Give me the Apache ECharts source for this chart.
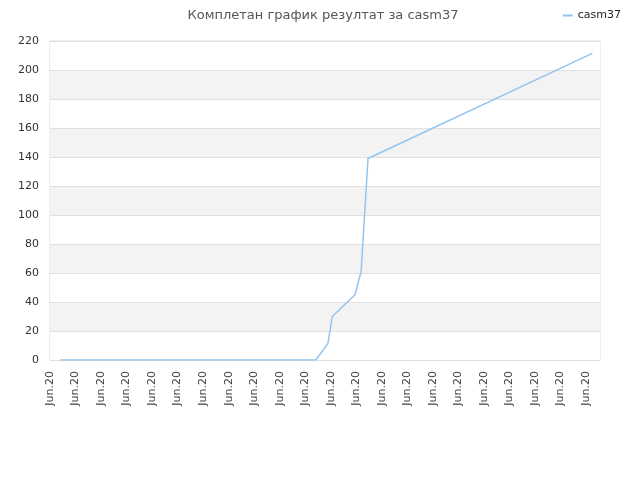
<!DOCTYPE html>
<html>
<head>
<meta charset="utf-8">
<script src="https://cdn.jsdelivr.net/npm/echarts@6/dist/echarts.min.js"></script>
<style>html,body{margin:0;padding:0;background:#fff}#c{width:640px;height:480px}</style>
</head>
<body>
<div id="c"></div>
<script>
var chartTitle = 'Комплетан график резултат за casm37';
var seriesName = 'casm37';
var xTickLabels = ['Jun.20','Jun.20','Jun.20','Jun.20','Jun.20','Jun.20','Jun.20','Jun.20','Jun.20','Jun.20','Jun.20',
                   'Jun.20','Jun.20','Jun.20','Jun.20','Jun.20','Jun.20','Jun.20','Jun.20','Jun.20','Jun.20','Jun.20'];
var xPositions = [0.39, 10.42, 10.89, 11.06, 11.95, 12.19, 12.46, 21.25];
var scoreValues = [0, 0, 11.5, 30, 45, 61, 139, 211.5];

var data = xPositions.map(function (x, i) { return [x, scoreValues[i]]; });

var chart = echarts.init(document.getElementById('c'), null, {renderer: 'canvas'});
chart.setOption({
  animation: false,
  backgroundColor: '#fff',
  title: {
    text: chartTitle,
    left: 318, top: 4, textAlign: 'center',
    textStyle: {fontFamily: 'DejaVu Sans', fontSize: 13, fontWeight: 'normal', color: '#555'}
  },
  legend: {
    right: 14, top: 5,
    icon: 'rect', itemWidth: 10, itemHeight: 2, itemGap: 6,
    textStyle: {fontFamily: 'DejaVu Sans', fontSize: 11, color: '#222'},
    data: [seriesName]
  },
  grid: {left: 50, right: 40, top: 41, bottom: 120, show: true, borderColor: '#dcdcdc', borderWidth: 1, containLabel: false},
  xAxis: {
    type: 'value', min: 0, max: 21.55, interval: 1,
    axisLine: {show: false}, axisTick: {show: false}, splitLine: {show: false},
    axisLabel: {
      rotate: 90, margin: 11, showMaxLabel: false,
      fontFamily: 'DejaVu Sans', fontSize: 11, color: '#444',
      formatter: function (v) { var i = Math.round(v); return xTickLabels[i] || ''; }
    }
  },
  yAxis: {
    type: 'value', min: 0, max: 220, interval: 20,
    axisLine: {show: false}, axisTick: {show: false},
    axisLabel: {margin: 11, fontFamily: 'DejaVu Sans', fontSize: 11, color: '#333'},
    splitLine: {lineStyle: {color: '#e0e0e0', width: 1}},
    splitArea: {show: true, areaStyle: {color: ['#ffffff', '#f3f3f3']}}
  },
  series: [{
    name: seriesName, type: 'line', data: data,
    showSymbol: false, symbol: 'none',
    lineStyle: {color: '#92c5f2', width: 1.5},
    itemStyle: {color: '#92c5f2'}
  }]
});
</script>
</body>
</html>
